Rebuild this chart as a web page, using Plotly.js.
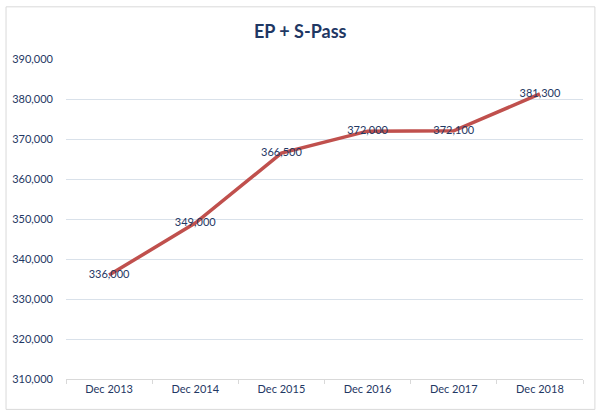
<!DOCTYPE html>
<html>
<head>
<meta charset="utf-8">
<script src="https://cdn.plot.ly/plotly-3.0.1.min.js"></script>
<style>html,body{margin:0;padding:0;background:#fff;}#chart{width:604px;height:419px;}</style>
</head>
<body>
<div id="chart"></div>
<script>
var categories = ["Dec 2013", "Dec 2014", "Dec 2015", "Dec 2016", "Dec 2017", "Dec 2018"];
var values = [336000, 349000, 366500, 372000, 372100, 381300];
var valueLabels = ["336,000", "349,000", "366,500", "372,000", "372,100", "381,300"];
var yTicks = [310000, 320000, 330000, 340000, 350000, 360000, 370000, 380000, 390000];
var yTickLabels = ["310,000", "320,000", "330,000", "340,000", "350,000", "360,000", "370,000", "380,000", "390,000"];

var textColor = "#1F3864";
var fontFam = "Lato, 'Open Sans', sans-serif";

var traces = [{
  x: categories,
  y: values,
  type: "scatter",
  mode: "lines+text",
  line: {color: "#C0504D", width: 3.5},
  text: valueLabels,
  textposition: "middle center",
  textfont: {family: fontFam, size: 11, color: textColor},
  hoverinfo: "none",
  cliponaxis: false
}];

var layout = {
  width: 604, height: 419,
  margin: {l: 66, r: 21, t: 59, b: 40.4},
  paper_bgcolor: "#ffffff",
  plot_bgcolor: "#ffffff",
  showlegend: false,
  title: {text: "<b>EP + S-Pass</b>", x: 0.497, xanchor: "center", y: 0.925, yanchor: "middle",
    font: {family: fontFam, size: 18, color: textColor}},
  xaxis: {
    type: "category",
    tickson: "boundaries",
    ticks: "outside", ticklen: 4, tickcolor: "#D9D9D9",
    showline: true, linecolor: "#D9D9D9", linewidth: 1,
    showgrid: false, zeroline: false,
    tickfont: {family: fontFam, size: 11, color: textColor},
    range: [-0.5, 5.5], fixedrange: true
  },
  yaxis: {
    range: [310000, 390050],
    tickvals: yTicks, ticktext: yTickLabels,
    showgrid: true, gridcolor: "#D9E1EA", gridwidth: 1,
    zeroline: false, showline: false, ticks: "",
    ticklabelstandoff: 12,
    tickfont: {family: fontFam, size: 11, color: textColor},
    fixedrange: true
  },
  shapes: [{
    type: "rect", xref: "paper", yref: "paper",
    x0: -0.116, x1: 1.023, y0: -0.095, y1: 1.163,
    line: {color: "#D9D9D9", width: 1}, fillcolor: "rgba(0,0,0,0)", layer: "below"
  }]
};

Plotly.newPlot("chart", traces, layout, {displayModeBar: false, staticPlot: true});
</script>
</body>
</html>
